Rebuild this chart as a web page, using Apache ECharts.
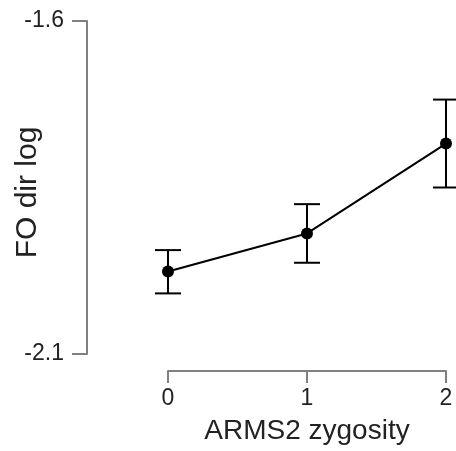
<!DOCTYPE html>
<html>
<head>
<meta charset="utf-8">
<script src="https://cdn.jsdelivr.net/npm/echarts@6/dist/echarts.min.js"></script>
<style>
	html, body { margin: 0; padding: 0; background: #fff; }
	#chart { width: 456px; height: 451px; }
</style>
</head>
<body>
<div id="chart"></div>
<script>
	// 数据
	const zygosity = [0, 1, 2];
	const meanValues = [-1.976, -1.919, -1.784];
	const lowerValues = [-2.009, -1.963, -1.850];
	const upperValues = [-1.944, -1.875, -1.718];
	const yTicks = [-2.1, -1.6];
	const xTicks = [0, 1, 2];

	const myChart = echarts.init(document.getElementById('chart'));
	const font = 'Liberation Sans, Arial, sans-serif';

	const points = zygosity.map((x, i) => [x, meanValues[i]]);
	const bars = zygosity.map((x, i) => [x, lowerValues[i], upperValues[i]]);

	// 误差线
	function renderErrorBar(params, api) {
		const x = api.value(0);
		const lo = api.coord([x, api.value(1)]);
		const hi = api.coord([x, api.value(2)]);
		const half = 13;
		const style = { stroke: '#000', lineWidth: 2 };
		return {
			type: 'group',
			children: [
				{ type: 'line', shape: { x1: lo[0], y1: lo[1], x2: hi[0], y2: hi[1] }, style: style },
				{ type: 'line', shape: { x1: lo[0] - half, y1: lo[1], x2: lo[0] + half, y2: lo[1] }, style: style },
				{ type: 'line', shape: { x1: hi[0] - half, y1: hi[1], x2: hi[0] + half, y2: hi[1] }, style: style }
			]
		};
	}

	myChart.setOption({
		animation: false,
		grid: { left: 168, right: 10, top: 21, bottom: 97, containLabel: false, outerBoundsMode: 'none' },
		xAxis: {
			type: 'value',
			min: 0,
			max: 2,
			interval: 1,
			offset: 17,
			name: 'ARMS2 zygosity',
			nameLocation: 'middle',
			nameGap: 46,
			nameMoveOverlap: false,
			nameTextStyle: { fontSize: 28, color: '#222', fontFamily: font },
			axisLine: { show: true, onZero: false, lineStyle: { color: '#808080', width: 2 } },
			axisTick: { show: true, inside: false, length: 12, lineStyle: { color: '#808080', width: 2 }, customValues: xTicks },
			axisLabel: { fontSize: 23, color: '#222', margin: 16, fontFamily: font, customValues: xTicks },
			splitLine: { show: false }
		},
		yAxis: {
			type: 'value',
			min: -2.1,
			max: -1.6,
			offset: 81,
			name: 'FO dir log',
			nameLocation: 'middle',
			nameRotate: 90,
			nameGap: 44,
			nameMoveOverlap: false,
			nameTextStyle: { fontSize: 30, color: '#222', fontFamily: font, padding: [0, 10, 0, 0] },
			axisLine: { show: true, onZero: false, lineStyle: { color: '#808080', width: 2 } },
			axisTick: { show: true, inside: false, length: 15, lineStyle: { color: '#808080', width: 2 }, customValues: yTicks },
			axisLabel: {
				fontSize: 23, color: '#222', margin: 23, fontFamily: font,
				padding: [6, 0, 0, 0],
				customValues: yTicks,
				formatter: v => v.toFixed(1)
			},
			splitLine: { show: false }
		},
		series: [
			{
				type: 'custom',
				data: bars,
				renderItem: renderErrorBar,
				encode: { x: 0, y: [1, 2] },
				clip: false,
				z: 2
			},
			{
				type: 'line',
				data: points,
				symbol: 'circle',
				symbolSize: 12,
				lineStyle: { color: '#000', width: 2 },
				itemStyle: { color: '#000' },
				z: 3
			}
		]
	});

	window.addEventListener('resize', function () {
		myChart.resize();
	});
</script>
</body>
</html>
